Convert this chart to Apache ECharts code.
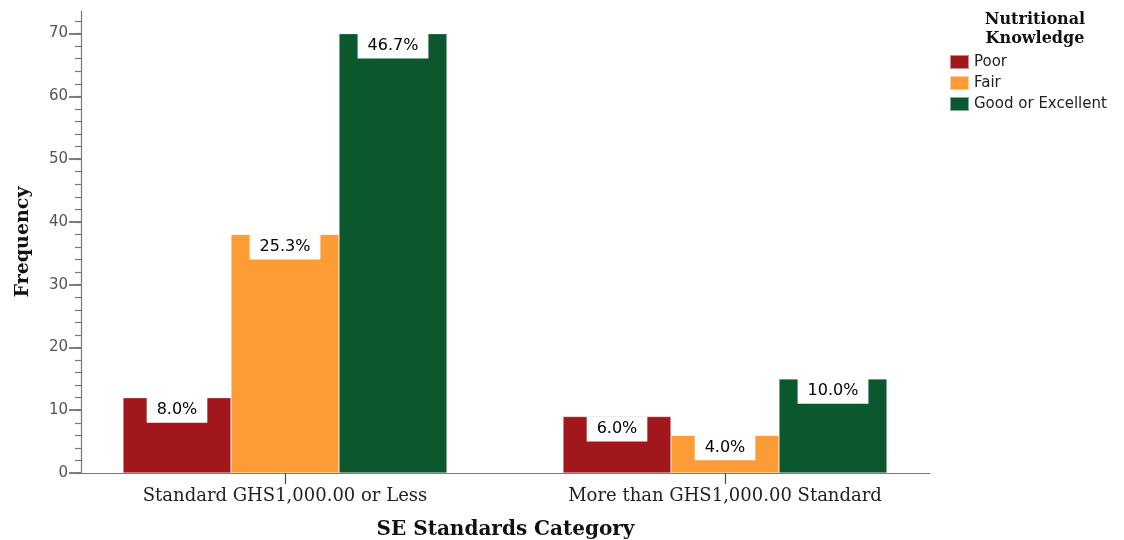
<!DOCTYPE html>
<html><head><meta charset="utf-8">
<script src="https://cdn.jsdelivr.net/npm/echarts@6/dist/echarts.min.js"></script>
<style>html,body{margin:0;padding:0;background:#fff}#c{width:1124px;height:540px}</style>
</head><body><div id="c"></div>
<script>
const categories = ['Standard GHS1,000.00 or Less', 'More than GHS1,000.00 Standard'];
const seriesNames = ['Poor', 'Fair', 'Good or Excellent'];
const poor = [12, 9];
const fair = [38, 6];
const good = [70, 15];
const totalCount = 150;
const majorTicks = [0, 10, 20, 30, 40, 50, 60, 70];
const minorTicks = [0,2,4,6,8,10,12,14,16,18,20,22,24,26,28,30,32,34,36,38,40,42,44,46,48,50,52,54,56,58,60,62,64,66,68,70,72];
const yMax = 73.6;

const colors = ['#A1171C', '#FD9B35', '#0B582E'];
const serif = 'DejaVu Serif';
const sans = 'DejaVu Sans';
const gTop = 11, gBottom = 67;

const chart = echarts.init(document.getElementById('c'));
const mk = (name, data, color) => ({
  name, type: 'bar', data, xAxisIndex: 1, yAxisIndex: 2,
  barWidth: 108, barGap: '0%',
  itemStyle: { color, borderColor: 'rgba(255,255,255,0.5)', borderWidth: 0.6 },
  label: {
    show: true, position: 'insideTop', distance: 0,
    formatter: p => (p.value / totalCount * 100).toFixed(1) + '%',
    backgroundColor: '#fff', color: '#000', padding: [4, 10, 4, 10],
    fontFamily: sans, fontSize: 16, lineHeight: 17
  }
});
chart.setOption({
  animation: false,
  title: {
    text: 'Nutritional\nKnowledge', left: 1035, top: 10, textAlign: 'center', padding: 0,
    textStyle: { fontFamily: serif, fontWeight: 'bold', fontSize: 16, lineHeight: 19, color: '#111' }
  },
  legend: {
    orient: 'vertical', left: 949, top: 54, padding: 0, itemWidth: 19, itemHeight: 14, itemGap: 5,
    icon: 'rect', data: seriesNames,
    textStyle: { fontFamily: sans, fontSize: 15, lineHeight: 15, color: '#222' }
  },
  grid: [
    { left: 81, right: 194, top: gTop, bottom: gBottom, outerBoundsMode: 'none' },
    { left: 65, right: 179, top: gTop, bottom: gBottom, outerBoundsMode: 'none' }
  ],
  xAxis: [
    { type: 'category', gridIndex: 0, data: categories,
      axisLine: { lineStyle: { color: '#777', width: 1.2 } },
      axisTick: { show: false }, axisLabel: { show: false },
      name: 'SE Standards Category', nameLocation: 'middle', nameGap: 47,
      nameTextStyle: { fontFamily: serif, fontWeight: 'bold', fontSize: 20, color: '#111' } },
    { type: 'category', gridIndex: 1, data: categories,
      axisLine: { show: false },
      axisTick: { show: true, alignWithLabel: true, length: 11, lineStyle: { color: '#444', width: 1.2 } },
      axisLabel: { fontFamily: serif, fontSize: 18, color: '#222', margin: 14 } }
  ],
  yAxis: [
    { type: 'value', gridIndex: 0, min: 0, max: yMax, position: 'left',
      splitLine: { show: false },
      axisLine: { show: true, lineStyle: { color: '#777', width: 1.2 } },
      axisTick: { show: true, length: 12, customValues: majorTicks, lineStyle: { color: '#555', width: 1.5 } },
      axisLabel: { customValues: majorTicks, fontFamily: sans, fontSize: 15, color: '#555', margin: 13 },
      name: 'Frequency', nameLocation: 'middle', nameGap: 48,
      nameTextStyle: { fontFamily: serif, fontWeight: 'bold', fontSize: 19, color: '#111' } },
    { type: 'value', gridIndex: 0, min: 0, max: yMax, position: 'left', offset: 0,
      splitLine: { show: false }, axisLine: { show: false }, axisLabel: { show: false },
      axisTick: { show: true, length: 6, customValues: minorTicks, lineStyle: { color: '#777', width: 1.2 } } },
    { type: 'value', gridIndex: 1, min: 0, max: yMax, show: false }
  ],
  series: [
    mk(seriesNames[0], poor, colors[0]),
    mk(seriesNames[1], fair, colors[1]),
    mk(seriesNames[2], good, colors[2])
  ]
});
</script></body></html>
